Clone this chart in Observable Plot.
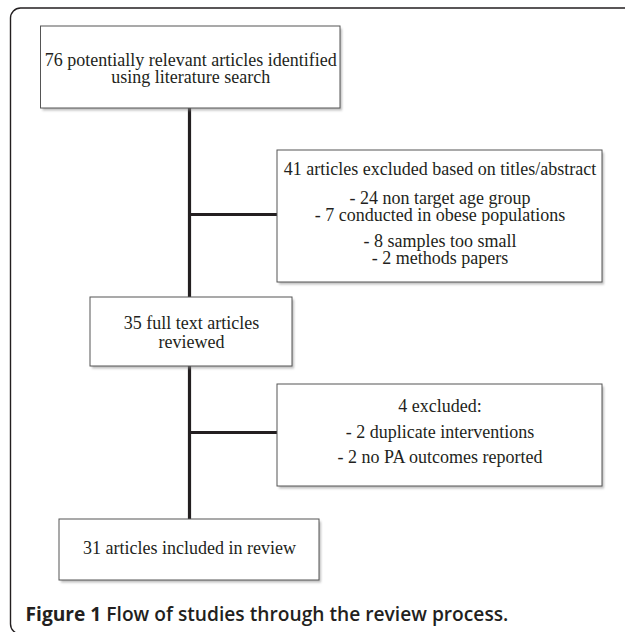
<!DOCTYPE html>
<html>
<head>
<meta charset="utf-8">
<script src="https://cdn.jsdelivr.net/npm/d3@7"></script>
<script src="https://cdn.jsdelivr.net/npm/@observablehq/plot@0.6"></script>
<style>
  html, body { margin: 0; padding: 0; background: #fff; }
  #chart svg { display: block; }
</style>
</head>
<body>
<div id="chart"></div>
<script>
// ---- content (data) ----
const stageLines = [
  ["76 potentially relevant articles identified", "using literature search"],
  ["35 full text articles", "reviewed"],
  ["31 articles included in review"]
];
const exclusionLines = [
  ["41 articles excluded based on titles/abstract",
   "- 24 non target age group",
   "- 7 conducted in obese populations",
   "- 8 samples too small",
   "- 2 methods papers"],
  ["4 excluded:",
   "- 2 duplicate interventions",
   "- 2 no PA outcomes reported"]
];
const captionLabel = "Figure 1";
const captionText = "Flow of studies through the review process.";

// ---- layout (positions in pixel space of the figure) ----
const W = 625, H = 632;
const stageLayout = [
  {x1: 40.5, x2: 340, y1: 26, y2: 108, lines: [60, 77]},
  {x1: 90, x2: 292, y1: 297, y2: 366, lines: [323, 342]},
  {x1: 59, x2: 319, y1: 519, y2: 580, lines: [548]}
];
const exclusionLayout = [
  {x1: 277, x2: 602, y1: 150, y2: 282, join: 214, lines: [169, 198, 215, 241, 258]},
  {x1: 277, x2: 602, y1: 384, y2: 486, join: 432, lines: [406, 432, 457]}
];
const spineX = 189;
const frameBox = {x1: 10.5, x2: 700, y1: 8, y2: 634};
const captionPos = {x: 25, y: 614};

// ---- build tables ----
const boxes = [
  ...stageLayout.map((b, i) => ({...b, kind: "stage", i})),
  ...exclusionLayout.map((b, i) => ({...b, kind: "excl", i}))
];
const texts = [];
stageLines.forEach((lines, i) => lines.forEach((t, j) => texts.push({
  text: t, x: (stageLayout[i].x1 + stageLayout[i].x2) / 2, y: stageLayout[i].lines[j]})));
exclusionLines.forEach((lines, i) => lines.forEach((t, j) => texts.push({
  text: t, x: (exclusionLayout[i].x1 + exclusionLayout[i].x2) / 2, y: exclusionLayout[i].lines[j]})));
const spine = [{x: spineX, y1: stageLayout[0].y2, y2: stageLayout[2].y1}];
const joins = exclusionLayout.map(e => ({y: e.join, x1: spineX, x2: e.x1}));

const ink = "#231f20";
const plot = Plot.plot({
  width: W, height: H,
  margin: 0,
  x: {domain: [0, W], range: [0, W], axis: null},
  y: {domain: [0, H], range: [0, H], axis: null},
  style: {background: "#fff", overflow: "hidden"},
  marks: [
    Plot.rect([frameBox], {x1: "x1", x2: "x2", y1: "y1", y2: "y2", rx: 10,
      fill: "none", stroke: ink, strokeWidth: 1.4}),
    Plot.ruleX(spine, {x: "x", y1: "y1", y2: "y2", stroke: ink, strokeWidth: 3.2}),
    Plot.ruleY(joins, {y: "y", x1: "x1", x2: "x2", stroke: ink, strokeWidth: 3.2}),
    // soft shadow
    Plot.rect(boxes, {x1: "x1", x2: "x2", y1: "y1", y2: "y2", dx: 2, dy: 2.5,
      fill: "#8a8a8a", fillOpacity: 0.55, imageFilter: "blur(1.2px)"}),
    Plot.rect(boxes, {x1: "x1", x2: "x2", y1: "y1", y2: "y2",
      fill: "#fff", stroke: "#555", strokeWidth: 1}),
    Plot.text(texts, {x: "x", y: "y", text: "text", fontFamily: "Liberation Serif, Times New Roman, serif",
      fontSize: 18, fill: ink, textAnchor: "middle"}),
    Plot.text([{x: captionPos.x, y: captionPos.y, t: captionLabel + " " + captionText}], {
      x: "x", y: "y", text: "t", textAnchor: "start", fontFamily: "Open Sans, sans-serif",
      fontSize: 19.2, fontWeight: 600, fill: ink})
  ]
});

// bold label inside the caption
d3.select(plot).selectAll("text").each(function () {
  const el = d3.select(this);
  if (this.textContent === captionLabel + " " + captionText) {
    el.text(null);
    el.append("tspan").attr("font-weight", 700).text(captionLabel);
    el.append("tspan").text(" " + captionText);
  }
});

document.getElementById("chart").appendChild(plot);
</script>
</body>
</html>
